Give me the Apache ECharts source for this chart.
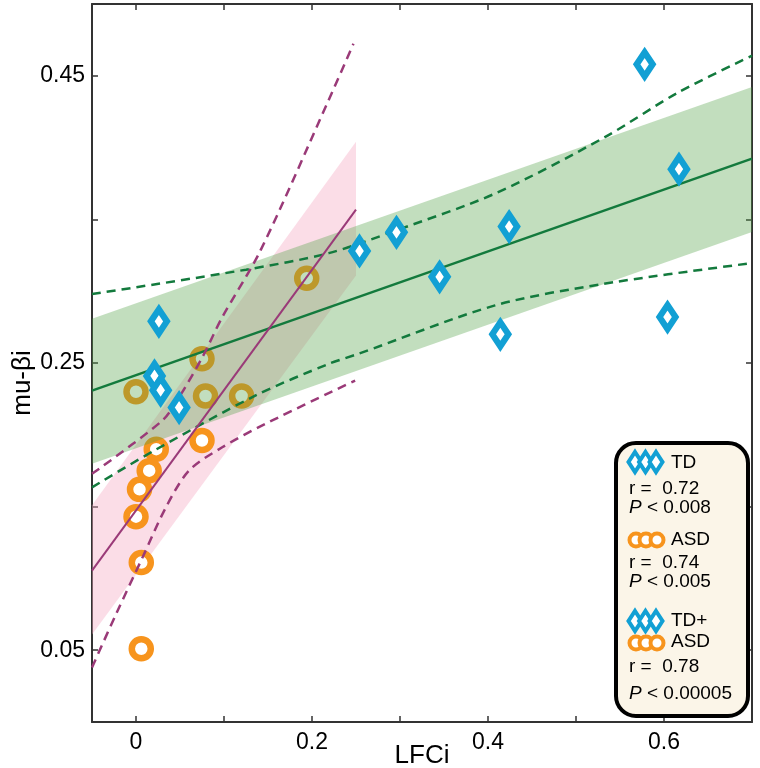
<!DOCTYPE html>
<html>
	<head>
		<meta charset="utf-8">
		<title></title>
		<style type="text/css">
			* {
				margin: 0;
				padding: 0;
			}
			html,
			body {
				width: 100%;
				height: 100%;
				background: #fff;
			}
			#main {
				width: 760px;
				height: 768px;
			}
		</style>
	</head>
	<body>
		<div id="main"></div>
		<script src="https://cdn.jsdelivr.net/npm/echarts@6/dist/echarts.min.js"></script>
		<script>
			// TD group (diamonds)
			var tdX = [0.026, 0.021, 0.028, 0.049, 0.254, 0.296, 0.345, 0.424, 0.414, 0.578, 0.617, 0.604]
			var tdY = [0.279, 0.241, 0.231, 0.219, 0.328, 0.341, 0.310, 0.345, 0.270, 0.458, 0.385, 0.282]
			// ASD group (circles)
			var asdX = [0.194, 0.075, 0.000, 0.079, 0.120, 0.075, 0.023, 0.015, 0.004, 0.000, 0.006, 0.006]
			var asdY = [0.309, 0.253, 0.230, 0.227, 0.227, 0.196, 0.190, 0.175, 0.162, 0.143, 0.111, 0.051]

			// regression lines [x, y]
			var tdFit = [[-0.05, 0.2308], [0.7, 0.3923]]
			var asdFit = [[-0.05, 0.1054], [0.25, 0.3568]]

			// shaded bands [x, low, high]
			var tdBand = [[-0.05, 0.1798, 0.2808], [0.7, 0.3412, 0.4422]]
			var asdBand = [[-0.05, 0.061, 0.151], [0.25, 0.311, 0.404]]

			// dashed confidence curves
			var tdUpper = [[-0.05, 0.298], [0.125, 0.315], [0.219, 0.3265], [0.294, 0.342], [0.408, 0.368], [0.532, 0.407], [0.615, 0.438], [0.7, 0.464]]
			var tdLower = [[-0.05, 0.1634], [0.0226, 0.1897], [0.136, 0.2274], [0.219, 0.2494], [0.2528, 0.2564], [0.408, 0.2901], [0.532, 0.3052], [0.7, 0.3196]]
			var asdUpper = [[-0.05, 0.1728], [0.030, 0.210], [0.049, 0.2262], [0.0754, 0.254], [0.098, 0.2819], [0.1415, 0.3284], [0.2188, 0.4329], [0.2471, 0.4724]]
			var asdLower = [[-0.05, 0.038], [-0.0226, 0.0752], [0.0075, 0.1147], [0.034, 0.1495], [0.0603, 0.1751], [0.098, 0.1913], [0.147, 0.2076], [0.249, 0.2378]]

			var xTicks = [0, 0.1, 0.2, 0.3, 0.4, 0.5, 0.6]
			var xLabels = [0, 0.2, 0.4, 0.6]
			var yTicks = [0.05, 0.15, 0.25, 0.35, 0.45]
			var yLabels = [0.05, 0.25, 0.45]

			var FONT = '"Liberation Sans", Arial, sans-serif'
			var BLUE = '#12a0d4'
			var ORANGE = '#f7941d'
			var GREEN = '#137a3d'
			var PURPLE = '#9a3a78'

			function pairs(xs, ys) {
				var out = []
				for (let i = 0; i < xs.length; i++) {
					out.push([xs[i], ys[i]])
				}
				return out
			}

			function bandSeries(rows, color, z) {
				return {
					type: 'custom',
					z: z,
					silent: true,
					data: rows,
					encode: { x: 0, y: [1, 2] },
					renderItem: function(params, api) {
						if (params.dataIndex !== 0) return
						var pts = []
						for (let i = 0; i < rows.length; i++) {
							pts.push(api.coord([rows[i][0], rows[i][2]]))
						}
						for (let i = rows.length - 1; i >= 0; i--) {
							pts.push(api.coord([rows[i][0], rows[i][1]]))
						}
						return {
							type: 'polygon',
							shape: { points: pts },
							style: { fill: color }
						}
					}
				}
			}

			function lineSeries(data, color, dashed, width, z) {
				return {
					type: 'line',
					z: z,
					data: data,
					smooth: dashed ? 0.3 : false,
					symbol: 'none',
					silent: true,
					lineStyle: {
						color: color,
						width: width,
						type: dashed ? [9, 6] : 'solid'
					}
				}
			}

			function axisCommon(ticks, labels, showLabels) {
				return {
					axisLine: { show: true, onZero: false, lineStyle: { color: '#333', width: 2 } },
					axisTick: { show: true, inside: true, length: 6, customValues: ticks, lineStyle: { color: '#333', width: 1.5 } },
					axisLabel: { show: showLabels, customValues: labels, color: '#000', fontSize: 23, fontFamily: FONT },
					splitLine: { show: false }
				}
			}

			var xBottom = Object.assign({
				type: 'value', min: -0.05, max: 0.7, position: 'bottom',
				name: 'LFCi', nameLocation: 'middle', nameGap: 21, nameMoveOverlap: false,
				nameTextStyle: { fontSize: 26, fontFamily: FONT, color: '#000' }
			}, axisCommon(xTicks, xLabels, true))
			xBottom.axisLabel.margin = 9
			xBottom.axisLabel.formatter = function(v) { return String(Math.round(v * 10) / 10) }

			var xTop = Object.assign({ type: 'value', min: -0.05, max: 0.7, position: 'top' }, axisCommon(xTicks, xLabels, false))

			var yLeft = Object.assign({
				type: 'value', min: 0, max: 0.5, position: 'left',
				name: 'mu-βi', nameLocation: 'middle', nameGap: 56, nameMoveOverlap: false,
				nameTextStyle: { fontSize: 26, fontFamily: FONT, color: '#000', padding: [0, 40, 0, 0] }
			}, axisCommon(yTicks, yLabels, true))
			yLeft.axisLabel.margin = 7
			yLeft.axisLabel.formatter = function(v) { return v.toFixed(2) }

			var yRight = Object.assign({ type: 'value', min: 0, max: 0.5, position: 'right' }, axisCommon(yTicks, yLabels, false))

			// legend box drawn with graphic elements
			function diamondPts(cx, cy) {
				return [[cx, cy - 10], [cx + 6.5, cy], [cx, cy + 10], [cx - 6.5, cy]]
			}
			function diamonds(cy) {
				var g = []
				var xs = [635, 645.5, 656]
				for (let i = 0; i < xs.length; i++) {
					g.push({ type: 'polygon', shape: { points: diamondPts(xs[i], cy) }, style: { fill: '#fff', stroke: BLUE, lineWidth: 4 }, z: 101 })
				}
				return g
			}
			function rings(cy) {
				var g = []
				var xs = [636, 646, 657]
				for (let i = 0; i < xs.length; i++) {
					g.push({ type: 'circle', shape: { cx: xs[i], cy: cy, r: 6.5 }, style: { fill: '#fff', stroke: ORANGE, lineWidth: 4 }, z: 101 })
				}
				return g
			}
			function txt(s, x, y) {
				return {
					type: 'text', z: 102,
					style: {
						text: s, x: x, y: y, verticalAlign: 'middle', fill: '#000',
						font: '19px ' + FONT,
						rich: { i: { font: 'italic 19px ' + FONT } }
					}
				}
			}

			var legendGraphic = [{
				type: 'rect', z: 100,
				shape: { x: 616, y: 443, width: 132, height: 273, r: 20 },
				style: { fill: '#fbf5e8', stroke: '#000', lineWidth: 4 }
			}]
			legendGraphic = legendGraphic
				.concat(diamonds(462)).concat([txt('TD', 671, 463), txt('r =  0.72', 629, 489), txt('{i|P} < 0.008', 629, 508)])
				.concat(rings(540)).concat([txt('ASD', 671, 540), txt('r =  0.74', 629, 563), txt('{i|P} < 0.005', 629, 582)])
				.concat(diamonds(621)).concat([txt('TD+', 671, 621)])
				.concat(rings(643)).concat([txt('ASD', 671, 642), txt('r =  0.78', 629, 667), txt('{i|P} < 0.00005', 629, 694)])

			var myChart = echarts.init(document.getElementById('main'))
			var option = {
				animation: false,
				backgroundColor: '#fff',
				textStyle: { fontFamily: FONT },
				grid: { left: 92, right: 8, top: 4, bottom: 46, outerBoundsMode: 'none', containLabel: false },
				xAxis: [xBottom, xTop],
				yAxis: [yLeft, yRight],
				graphic: legendGraphic,
				series: [
					bandSeries(asdBand, 'rgba(245, 170, 195, 0.4)', 1),
					{
						type: 'scatter',
						z: 2,
						data: pairs(asdX, asdY),
						symbol: 'circle',
						symbolSize: 19,
						itemStyle: { color: '#fff', borderColor: ORANGE, borderWidth: 6.5, opacity: 1 }
					},
					bandSeries(tdBand, 'rgba(80, 160, 70, 0.35)', 3),
					lineSeries(tdUpper, GREEN, true, 2.5, 4),
					lineSeries(tdLower, GREEN, true, 2.5, 4),
					lineSeries(tdFit, GREEN, false, 2.5, 4),
					lineSeries(asdUpper, PURPLE, true, 2.5, 4),
					lineSeries(asdLower, PURPLE, true, 2.5, 4),
					lineSeries(asdFit, PURPLE, false, 2, 4),
					{
						type: 'scatter',
						z: 5,
						data: pairs(tdX, tdY),
						symbol: 'diamond',
						symbolSize: [16, 24],
						itemStyle: { color: '#fff', borderColor: BLUE, borderWidth: 6.5, borderJoin: 'miter', opacity: 1 }
					}
				]
			}
			myChart.setOption(option)
		</script>
	</body>
</html>
